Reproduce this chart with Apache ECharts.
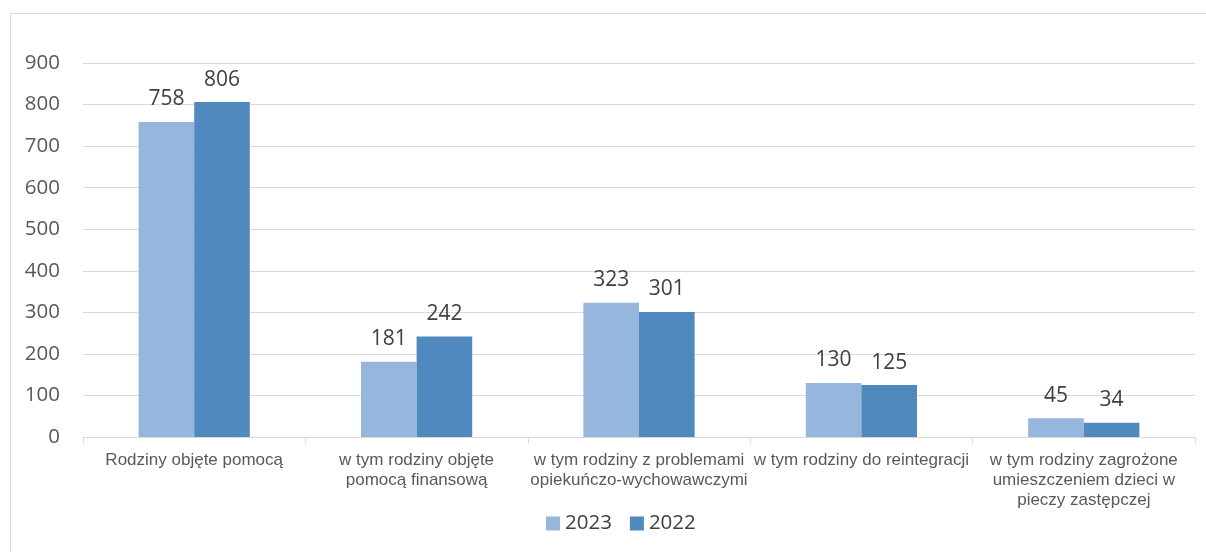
<!DOCTYPE html>
<html><head><meta charset="utf-8">
<script src="https://cdn.jsdelivr.net/npm/echarts@6/dist/echarts.min.js"></script>
<style>html,body{margin:0;padding:0;background:#fff}#c{width:1206px;height:552px}
#frame{position:absolute;left:10px;top:13px;width:1210px;height:560px;border:1px solid #d9d9d9;box-sizing:border-box;pointer-events:none}</style>
</head><body><div id="c"></div><div id="frame"></div>
<script>
const categories = [
  "Rodziny objęte pomocą",
  "w tym rodziny objęte\npomocą finansową",
  "w tym rodziny z problemami\nopiekuńczo-wychowawczymi",
  "w tym rodziny do reintegracji",
  "w tym rodziny zagrożone\numieszczeniem dzieci w\npieczy zastępczej"
];
const series2023 = [758, 181, 323, 130, 45];
const series2022 = [806, 242, 301, 125, 34];
const yTicks = [0, 100, 200, 300, 400, 500, 600, 700, 800, 900];

const chart = echarts.init(document.getElementById('c'));
const lbl = {show:true, position:'top', distance:12, color:'#404040', fontSize:21, fontFamily:'Open Sans, Liberation Sans, sans-serif'};
chart.setOption({
  animation:false,
  grid:{left:83, right:11, top:63, bottom:115, containLabel:false},
  legend:{top:508, left:541, itemWidth:14, itemHeight:14, itemGap:18,
    textStyle:{fontSize:20.5, color:'#404040', fontFamily:'Open Sans, Liberation Sans, sans-serif'},
    data:['2023','2022'], icon:'rect'},
  xAxis:{type:'category', data:categories,
    axisLine:{lineStyle:{color:'#d9d9d9', width:1}},
    axisTick:{show:true, length:6, alignWithLabel:false, lineStyle:{color:'#d9d9d9'}},
    axisLabel:{interval:0, color:'#595959', fontSize:17, lineHeight:20, margin:13, fontFamily:'Liberation Sans, Arial, sans-serif'}},
  yAxis:{type:'value', min:yTicks[0], max:yTicks[yTicks.length-1], interval:100,
    axisLine:{show:false}, axisTick:{show:false},
    splitLine:{lineStyle:{color:'#d9d9d9', width:1}},
    axisLabel:{color:'#595959', fontSize:20.5, margin:23, fontFamily:'Open Sans, Liberation Sans, sans-serif'}},
  series:[
    {name:'2023', type:'bar', data:series2023, barGap:'0%', barCategoryGap:'50%', itemStyle:{color:'#95b7de'}, label:lbl},
    {name:'2022', type:'bar', data:series2022, itemStyle:{color:'#4f89bd'}, label:lbl}
  ]
});
</script></body></html>
